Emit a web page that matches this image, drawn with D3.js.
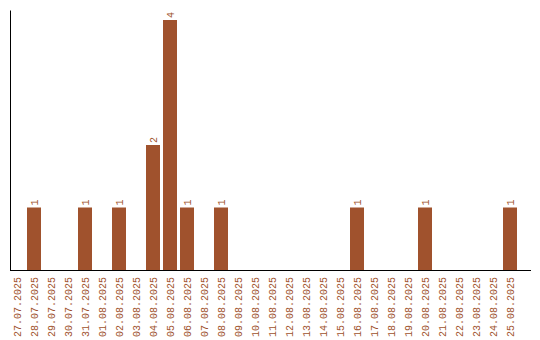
<!DOCTYPE html>
<html>
<head>
<meta charset="utf-8">
<script src="https://cdn.jsdelivr.net/npm/d3@7"></script>
<style>
  body { margin: 0; background: #fff; }
  text { font-family: "Liberation Mono", "DejaVu Sans Mono", monospace; font-size: 10px; fill: #a0522d; }
</style>
</head>
<body>
<div id="chart"></div>
<script>
// Daily counts, 27.07.2025 – 25.08.2025
const dates = [
    "27.07.2025", "28.07.2025", "29.07.2025", "30.07.2025", "31.07.2025",
    "01.08.2025", "02.08.2025", "03.08.2025", "04.08.2025", "05.08.2025",
    "06.08.2025", "07.08.2025", "08.08.2025", "09.08.2025", "10.08.2025",
    "11.08.2025", "12.08.2025", "13.08.2025", "14.08.2025", "15.08.2025",
    "16.08.2025", "17.08.2025", "18.08.2025", "19.08.2025", "20.08.2025",
    "21.08.2025", "22.08.2025", "23.08.2025", "24.08.2025", "25.08.2025"
];
const counts = [
    0, 1, 0, 0, 1,
    0, 1, 0, 2, 4,
    1, 0, 1, 0, 0,
    0, 0, 0, 0, 0,
    1, 0, 0, 0, 1,
    0, 0, 0, 0, 1
];

const data = dates.map((d, i) => ({ date: d, value: counts[i] }));

const width = 540, height = 340;
const marginLeft = 10, baseY = 270, topY = 10;

const svg = d3.select("#chart").append("svg")
    .attr("width", width)
    .attr("height", height);

const x = d3.scaleBand()
    .domain(dates)
    .range([marginLeft, marginLeft + 17 * dates.length - 3])
    .paddingInner(3 / 17)
    .paddingOuter(0);

const y = d3.scaleLinear()
    .domain([0, d3.max(counts) * 1.04])
    .range([baseY, topY]);

// bars
svg.selectAll(".bar").data(data.filter(d => d.value > 0)).enter().append("rect")
    .attr("class", "bar")
    .attr("x", d => x(d.date))
    .attr("y", d => y(d.value))
    .attr("width", x.bandwidth())
    .attr("height", d => y(0) - y(d.value))
    .style("fill", "#a0522d");

// value labels
svg.selectAll(".val").data(data.filter(d => d.value > 0)).enter().append("text")
    .attr("class", "val")
    .attr("transform", d => `translate(${x(d.date) + x.bandwidth() / 2},${y(d.value) - 2}) rotate(-90)`)
    .attr("dy", "0.35em")
    .attr("text-anchor", "start")
    .text(d => d.value);

// y axis (line only)
svg.append("g")
    .attr("transform", `translate(${marginLeft},0)`)
    .call(d3.axisLeft(y).ticks(0).tickSize(0).tickSizeOuter(0))
    .select(".domain").attr("stroke", "#000");

// x axis line
svg.append("line")
    .attr("x1", marginLeft).attr("x2", 531)
    .attr("y1", baseY + 0.5).attr("y2", baseY + 0.5)
    .attr("stroke", "#000");

// x tick labels
svg.selectAll(".xlab").data(dates).enter().append("text")
    .attr("class", "xlab")
    .attr("transform", d => `translate(${x(d) + x.bandwidth() / 2},${baseY + 7}) rotate(-90)`)
    .attr("dy", "0.35em")
    .attr("text-anchor", "end")
    .text(d => d);
</script>
</body>
</html>
